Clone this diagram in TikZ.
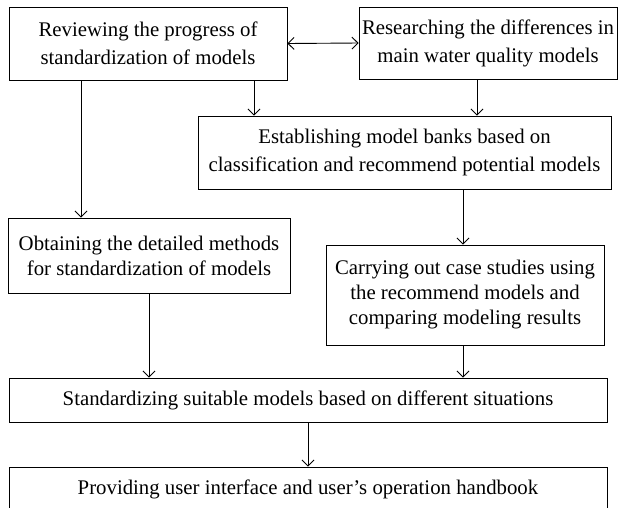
\documentclass[tikz,border=0pt]{standalone}
\usepackage{fontspec}
\setmainfont{Liberation Serif}
\usetikzlibrary{arrows.meta}
\begin{document}
\begin{tikzpicture}[x=1pt,y=-1pt,
  box/.style={draw, line width=0.9pt, inner sep=0pt, align=center,
    font=\fontsize{20.8}{28}\selectfont},
  boxs/.style={box, font=\fontsize{20.8}{25}\selectfont},
  arr/.style={line width=0.9pt, -{Straight Barb[length=6pt,width=12pt]}},
  darr/.style={line width=0.9pt, {Straight Barb[length=6pt,width=12pt]}-{Straight Barb[length=6pt,width=12pt]}}]
\useasboundingbox (0,0) rectangle (624,507);
\clip (0,0) rectangle (624,507);
\node[box, minimum width=278pt, minimum height=73pt] (A) at (148,43.5)
  {Reviewing the progress of\\standardization of models};
\node[box, minimum width=258pt, minimum height=72pt] (B) at (488,43)
  {Researching the differences in\\main water quality models};
\node[box, minimum width=413pt, minimum height=73pt] (C) at (404.5,152.5)
  {Establishing model banks based on\\classification and recommend potential models};
\node[boxs, minimum width=282pt, minimum height=75pt] (D) at (149,255.5)
  {Obtaining the detailed methods\\for standardization of models};
\node[boxs, minimum width=278pt, minimum height=100pt] (E) at (465,295)
  {Carrying out case studies using\\the recommend models and\\comparing modeling results};
\node[box, minimum width=598pt, minimum height=44pt] (F) at (308,400)
  {Standardizing suitable models based on different situations};
\node[box, minimum width=598pt, minimum height=44pt] (G) at (308,489)
  {Providing user interface and user’s operation handbook};
\draw[darr] (A.east) -- (B.west);
\draw[arr] (A.south -| 254,0) -- (C.north -| 254,0);
\draw[arr] (B.south -| 477,0) -- (C.north -| 477,0);
\draw[arr] (A.south -| 81,0) -- (D.north -| 81,0);
\draw[arr] (C.south -| 463,0) -- (E.north -| 463,0);
\draw[arr] (D.south) -- (F.north -| D.south);
\draw[arr] (E.south -| 463,0) -- (F.north -| 463,0);
\draw[arr] (F.south) -- (G.north);
\end{tikzpicture}
\end{document}
